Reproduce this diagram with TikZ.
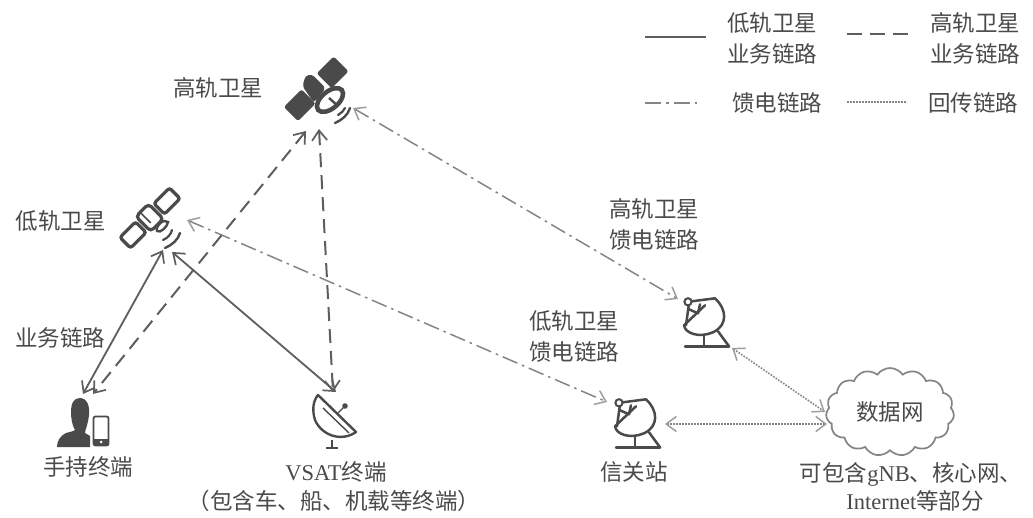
\documentclass[tikz,border=0pt]{standalone}
\usepackage{fontspec}
\setmainfont{Liberation Serif}
\newfontfamily\cjk{Noto Sans CJK SC}
\usetikzlibrary{arrows.meta,shapes.symbols}
\definecolor{ink}{HTML}{4A4A4A}
\definecolor{lnk}{HTML}{5E5E5E}
\definecolor{feed}{HTML}{858585}
\tikzset{
  lab/.style={font=\fontsize{22.5}{31}\selectfont\cjk, text=ink, inner sep=0pt, align=center},
  labm/.style={font=\fontsize{22.5}{31}\selectfont, text=ink, inner sep=0pt, align=center},
  solidlink/.style={draw=lnk, line width=1.8pt},
  dashlink/.style={draw=lnk, line width=2pt, dash pattern=on 14pt off 8pt},
  feedlink/.style={draw=feed, line width=1.5pt, dash pattern=on 16pt off 5pt on 2.5pt off 5pt},
  backlink/.style={draw=feed, line width=1.6pt, dash pattern=on 1.6pt off 1.4pt},
  twoway/.style={{Straight Barb[length=10pt,width=15pt,line width=1.7pt]}-{Straight Barb[length=10pt,width=15pt,line width=1.7pt]}},
  twowayl/.style={{Straight Barb[length=10pt,width=15pt,line width=1.5pt,color=feed!80]}-{Straight Barb[length=10pt,width=15pt,line width=1.5pt,color=feed!80]}},
  dishline/.style={draw=ink, line width=2.5pt, line join=round, line cap=round},
  fillpart/.style={fill=ink, draw=ink, line width=1pt, line join=round},
  pics/gateway/.style={code={
    \draw[dishline] (-17,-21.5) -- (10,-25) (-16,-20) -- (-19,2);
    \draw[dishline] (-16,-14) -- (-7,-10) -- (-5,-19);
    \draw[dishline] (-21,2) -- (0,-18);
    \draw[dishline] (10,-25) .. controls (22,-14) and (23,2) .. (8,9) .. controls (-6,15) and (-20,10) .. (-21,2);
    \draw[dishline] (-1,12) -- (-1,23);
    \draw[dishline] (13,8) -- (24,23);
    \draw[dishline] (-20,23) -- (24,23);
    \draw[draw=ink, fill=white, line width=2pt] (-17,-21.5) circle (3.6);
  }},
}
\begin{document}
\begin{tikzpicture}[x=1pt,y=-1pt]
\useasboundingbox (0,0) rectangle (1033,518);
\fill[white] (0,0) rectangle (1033,518);

% --- GEO satellite
\begin{scope}[shift={(316,89)},rotate=45]
  \fill[fillpart,rounded corners=2pt] (-35,-9.5) rectangle (-11,9.5);
  \fill[fillpart,rounded corners=2pt] (12,-10) rectangle (35,10);
\end{scope}
\fill[fillpart,rounded corners=3pt] (306,76) -- (312,75) -- (325,88) -- (314,102) -- (303,86) -- cycle;
\begin{scope}[shift={(330,100)},rotate=40]
  \draw[draw=ink,line width=4.5pt,fill=white] (0,0) ellipse [x radius=15.5,y radius=8.5];
\end{scope}
\draw[draw=ink,line width=2.4pt] (329,98) -- (338,106);
\draw[draw=ink,line width=2.2pt,line cap=round] (338,115) .. controls (341,113) and (344,111) .. (345,108);
\draw[draw=ink,line width=2.4pt,line cap=round] (335,123) .. controls (342,120) and (348,115) .. (350,108);

% --- LEO satellite
\begin{scope}[shift={(150,218)},rotate=45]
  \draw[draw=ink,line width=3.2pt,rounded corners=2.5pt] (-35,-7.5) rectangle (-13,7.5);
  \draw[draw=ink,line width=3.2pt,rounded corners=2.5pt] (13,-7.5) rectangle (35,7.5);
  \draw[draw=ink,line width=3.2pt,rounded corners=4pt] (-9,-11) rectangle (9,10);
  \draw[draw=ink,line width=1.6pt] (-3,-11) -- (-3,4);
\end{scope}
\draw[draw=ink,line width=2.4pt,fill=white] (157,231) .. controls (155,226) and (164,218) .. (168,222) .. controls (168,226) and (160,234) .. (157,231) -- cycle;
\draw[draw=ink,line width=2.2pt,line cap=round] (163,240) .. controls (168,238) and (171,234) .. (172,230);
\draw[draw=ink,line width=2.4pt,line cap=round] (165,248) .. controls (172,245) and (178,240) .. (180,233);

% --- handset user
\fill[ink] (80,398) .. controls (87,398) and (90,406) .. (89,415) .. controls (88,425) and (85,430) .. (85,433) .. controls (87,435) and (90,435) .. (90,436) -- (90,447) -- (57,447) .. controls (57,441) and (60,436) .. (66,433) .. controls (70,432) and (74,431) .. (75,430) .. controls (72,425) and (71,418) .. (71,412) .. controls (71,403) and (74,398) .. (80,398) -- cycle;
\draw[draw=ink,line width=1.8pt,rounded corners=2pt] (93.5,416.5) rectangle (108.5,445.5);
\fill[ink] (94,439) rectangle (108,445);
\fill[white] (101,442) circle (1.5);

% --- VSAT terminal
\draw[draw=ink,line width=2.4pt,line join=round] (318,395) -- (356,432) .. controls (342,442) and (322,436) .. (315,420) .. controls (312,410) and (313,401) .. (318,395) -- cycle;
\draw[draw=ink,line width=1.4pt] (323,408) -- (349,433);
\fill[ink] (345,406) circle (2.8);
\draw[draw=ink,line width=1.2pt] (338,413) -- (345,406);
\draw[draw=ink,line width=2.4pt] (332,440) -- (332,448) (326,448) -- (338,448);

% --- gateways
\pic at (705,323.3) {gateway};
\pic at (636,424.3) {gateway};

% --- cloud
\node[cloud, cloud puffs=15, cloud puff arc=110, aspect=1.45, draw=feed, line width=1.7pt, fill=white, minimum width=128pt, minimum height=88pt, inner sep=0pt, font=\fontsize{22.5}{31}\selectfont\cjk, text=ink] (net) at (890,412) {数据网};

% --- connector end points
\coordinate (geoF) at (353,108);
\coordinate (leoF) at (187,220);
\coordinate (geoH) at (306,131);
\coordinate (geoV) at (319,129);
\coordinate (leoA) at (163,250);
\coordinate (leoB) at (172,252);
\coordinate (handS) at (83,394);
\coordinate (handD) at (93,394);
\coordinate (vsatS) at (336,392);
\coordinate (vsatD) at (333,392);
\coordinate (gwHiF) at (678,299);
\coordinate (gwLoF) at (607,402);
\coordinate (gwHiB) at (732,348);
\coordinate (gwLoB) at (665,424);
\coordinate (netA) at (825,412);
\coordinate (netB) at (827,424);

% --- connectors
\draw[feedlink,twowayl] (geoF) -- (gwHiF);
\draw[feedlink,twowayl] (leoF) -- (gwLoF);
\draw[dashlink,twoway] (geoH) -- (handD);
\draw[dashlink,twoway] (geoV) -- (vsatD);
\draw[solidlink,twoway] (leoA) -- (handS);
\draw[solidlink,twoway] (leoB) -- (vsatS);
\draw[backlink,twowayl] (gwHiB) -- (netA);
\draw[backlink,twowayl] (gwLoB) -- (netB);

% --- labels
\node[lab] (tGeo) at (218,88) {高轨卫星};
\node[lab] (tLeo) at (61,221) {低轨卫星};
\node[lab] (tSvc) at (60,338) {业务链路};
\node[lab] (tHand) at (88,467) {手持终端};
\node[labm] (tVsat) at (336,472) {VSAT\cjk 终端};
\node[lab] (tVsat2) at (334,501) {（包含车、船、机载等终端）};
\node[lab] (tGeoF) at (654,224) {高轨卫星\\馈电链路};
\node[lab] (tLeoF) at (574,336) {低轨卫星\\馈电链路};
\node[lab] (tGw) at (634,472) {信关站};
\node[labm] (tNet) at (911,474) {\cjk 可包含\rmfamily gNB\cjk 、核心网、};
\node[labm] (tNet2) at (915,501) {Internet\cjk 等部分};

% --- legend
\coordinate (k1a) at (645,37); \coordinate (k1b) at (706,37);
\coordinate (k2a) at (847,34); \coordinate (k2b) at (908,34);
\coordinate (k3a) at (645,103); \coordinate (k3b) at (700,103);
\coordinate (k4a) at (847,102); \coordinate (k4b) at (907,102);
\draw[solidlink,line width=2.4pt] (k1a) -- (k1b);
\draw[dashlink,line width=2.4pt,dash pattern=on 15pt off 8pt] (k2a) -- (k2b);
\draw[feedlink] (k3a) -- (k3b);
\draw[backlink,line width=1.1pt] (k4a) -- (k4b);
\node[lab] (k1) at (772,38) {低轨卫星\\业务链路};
\node[lab] (k2) at (975,38) {高轨卫星\\业务链路};
\node[lab] (k3) at (777,103) {馈电链路};
\node[lab] (k4) at (973,103) {回传链路};
\end{tikzpicture}
\end{document}
